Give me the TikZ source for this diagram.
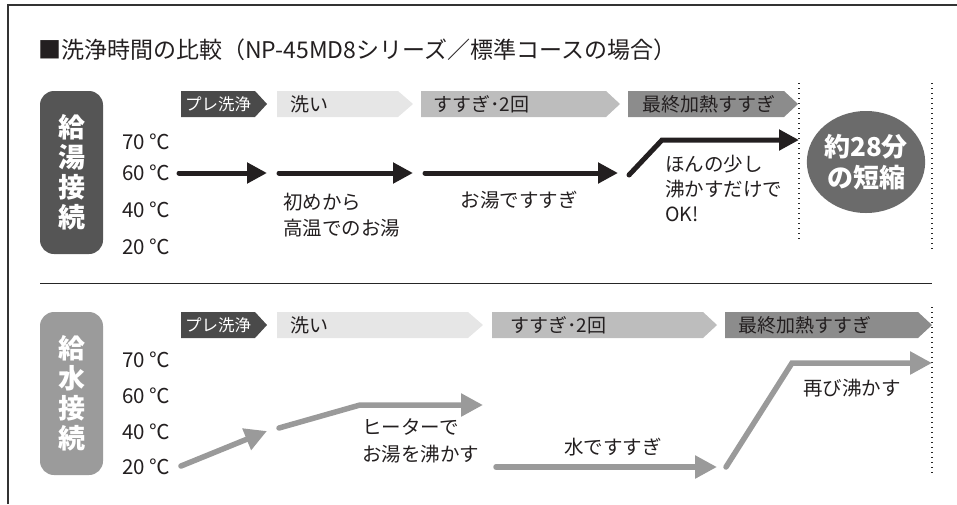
\documentclass[tikz,border=0pt]{standalone}
\usepackage{fontspec}
\setmainfont{Noto Sans CJK JP}
\usetikzlibrary{arrows.meta,shapes.geometric}
\definecolor{chevdk}{HTML}{4A4A4A}
\definecolor{chevlt}{HTML}{E6E6E6}
\definecolor{chevmd}{HTML}{BDBDBD}
\definecolor{chevfn}{HTML}{8C8C8C}
\definecolor{pillA}{HTML}{555555}
\definecolor{pillB}{HTML}{9B9B9B}
\definecolor{circfill}{HTML}{6B6B6B}
\definecolor{garr}{HTML}{9A9A9A}
\definecolor{barr}{HTML}{231F20}
\definecolor{txt}{HTML}{231F20}
\newcommand{\mychev}[6]{% x1, xtip, y1, y2, depth, fill
  \fill[#6] (#1,#3) -- ({#2-#5},#3) -- (#2,{(#3+#4)/2}) -- ({#2-#5},#4) -- (#1,#4) -- cycle;}
\tikzset{
  pillbox/.style={rounded corners=14pt, minimum width=63pt, inner sep=0pt, text=white,
     align=center, font=\fontsize{27}{30}\selectfont\bfseries},
  temp/.style={anchor=west, inner sep=0pt, text=txt, font=\fontsize{20.5}{20}\selectfont},
  chevtext/.style={anchor=west, inner sep=0pt, font=\fontsize{19}{19}\selectfont},
  lbl/.style={inner sep=0pt, text=txt, align=left, font=\fontsize{19.5}{26.5}\selectfont},
  barrow/.style={draw=barr, line width=5pt, line cap=round, line join=miter,
     -{Triangle[length=20pt,width=20pt]}},
  garrow/.style={draw=garr, line width=5.5pt, line cap=round, line join=miter,
     -{Triangle[length=22pt,width=22pt]}},
  dotline/.style={line width=1.3pt, dash pattern=on 1.3pt off 3.7pt, draw=black!85},
}
\begin{document}
\begin{tikzpicture}[x=1pt,y=-1pt]
\useasboundingbox (0,0) rectangle (957,504);
% frame
\draw[line width=1.6pt, draw=black!80] (8,504) -- (8,5) -- (957,5);
% title
\node[anchor=west, inner sep=0pt, text=txt, font=\fontsize{23}{23}\selectfont] (title) at (38,50)
  {■洗浄時間の比較（NP-45MD8シリーズ／標準コースの場合）};
% ================= top section
\node[pillbox, fill=pillA, minimum height=163pt] (pA) at (71.5,172.5) {給\\湯\\接\\続};
\node[temp] (tA70) at (122,142) {70 ℃};
\node[temp] (tA60) at (122,173) {60 ℃};
\node[temp] (tA40) at (122,210) {40 ℃};
\node[temp] (tA20) at (122,247) {20 ℃};
% chevrons
\mychev{181}{267}{91}{117}{12}{chevdk}
\mychev{277}{413}{91}{117}{15}{chevlt}
\mychev{421}{620}{91}{117}{14}{chevmd}
\mychev{628}{798}{91}{117}{14}{chevfn}
\node[chevtext, text=white, font=\fontsize{16.5}{16}\selectfont] (cA1) at (185,104) {プレ洗浄};
\node[chevtext, text=txt] (cA2) at (290,104) {洗い};
\node[chevtext, text=txt] (cA3) at (433,104) {すすぎ･2回};
\node[chevtext, text=txt] (cA4) at (642,104) {最終加熱すすぎ};
% dotted lines
\coordinate (dA1t) at (799,83); \coordinate (dA1b) at (799,240);
\coordinate (dA2t) at (932,83); \coordinate (dA2b) at (932,252);
\draw[dotline] (dA1t) -- (dA1b);
\draw[dotline] (dA2t) -- (dA2b);
% black arrows
\coordinate (a1s) at (179,173); \coordinate (a1e) at (267,173);
\coordinate (a2s) at (279,173); \coordinate (a2e) at (413,173);
\coordinate (a3s) at (425,173); \coordinate (a3e) at (618,173);
\coordinate (a4s) at (629,175); \coordinate (a4m) at (662,140); \coordinate (a4e) at (799,140);
\draw[barrow] (a1s) -- (a1e);
\draw[barrow] (a2s) -- (a2e);
\draw[barrow] (a3s) -- (a3e);
\draw[barrow] (a4s) -- (a4m) -- (a4e);
% labels
\node[lbl, anchor=west] (lA1) at (283,215) {初めから\\高温でのお湯};
\node[lbl] (lA2) at (519,200) {お湯ですすぎ};
\node[lbl, anchor=west, font=\fontsize{19.5}{25}\selectfont] (lA3) at (665,188) {ほんの少し\\沸かすだけで\\OK!};
\node[ellipse, fill=circfill, minimum width=118pt, minimum height=102pt, inner sep=0pt,
      text=white, align=center, font=\fontsize{26}{31}\selectfont\bfseries] (circ) at (866,162) {約28分\\の短縮};
% separator
\coordinate (sepL) at (40,283); \coordinate (sepR) at (932,283);
\draw[line width=1pt, draw=black!85] (sepL) -- (sepR);
% ================= bottom section
\node[pillbox, fill=pillB, minimum height=163pt] (pB) at (71.5,393.5) {給\\水\\接\\続};
\node[temp] (tB70) at (122,360) {70 ℃};
\node[temp] (tB60) at (122,396) {60 ℃};
\node[temp] (tB40) at (122,432) {40 ℃};
\node[temp] (tB20) at (122,467) {20 ℃};
\mychev{181}{267}{312}{338}{12}{chevdk}
\mychev{277}{483}{312}{338}{15}{chevlt}
\mychev{492}{717}{312}{338}{14}{chevmd}
\mychev{725}{932}{312}{338}{14}{chevfn}
\node[chevtext, text=white, font=\fontsize{16.5}{16}\selectfont] (cB1) at (185,325) {プレ洗浄};
\node[chevtext, text=txt] (cB2) at (290,325) {洗い};
\node[chevtext, text=txt] (cB3) at (510,325) {すすぎ･2回};
\node[chevtext, text=txt] (cB4) at (738,325) {最終加熱すすぎ};
\coordinate (dB2t) at (932,307); \coordinate (dB2b) at (932,475);
\draw[dotline] (dB2t) -- (dB2b);
% gray arrows
\coordinate (b1s) at (181,466); \coordinate (b1e) at (267,431);
\coordinate (b2s) at (279,428); \coordinate (b2m) at (360,405); \coordinate (b2e) at (483,405);
\coordinate (b3s) at (496,467); \coordinate (b3e) at (717,467);
\coordinate (b4s) at (726,467); \coordinate (b4m) at (792,363); \coordinate (b4e) at (932,363);
\draw[garrow] (b1s) -- (b1e);
\draw[garrow] (b2s) -- (b2m) -- (b2e);
\draw[garrow] (b3s) -- (b3e);
\draw[garrow] (b4s) -- (b4m) -- (b4e);
\node[lbl, anchor=west] (lB1) at (362,441) {ヒーターで\\お湯を沸かす};
\node[lbl] (lB2) at (613,447) {水ですすぎ};
\node[lbl] (lB3) at (852,388) {再び沸かす};
\end{tikzpicture}
\end{document}
